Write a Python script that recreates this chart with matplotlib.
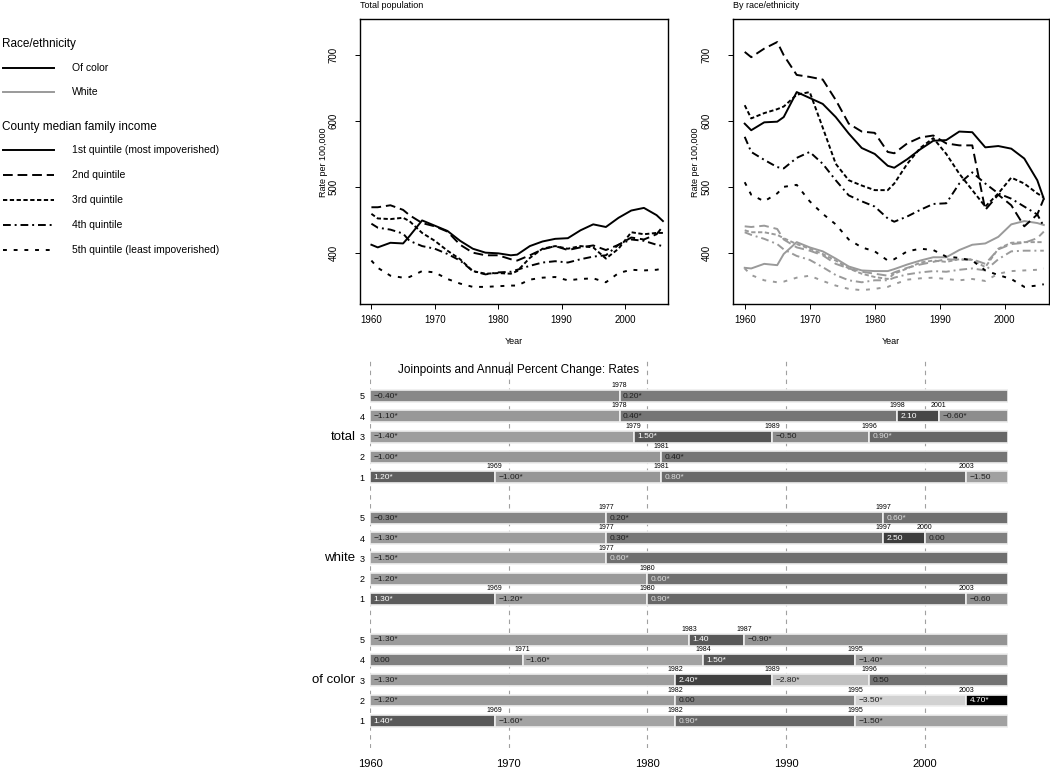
import matplotlib.pyplot as plt

plt.rcParams['font.family'] = ['Liberation Sans', 'DejaVu Sans']

# ---- data: rates per 100,000 ----
years = [1960, 1961, 1963, 1965, 1966, 1968, 1970, 1972, 1974, 1976, 1978, 1980, 1982,
         1983, 1985, 1987, 1989, 1991, 1993, 1995, 1997, 1999, 2001, 2003, 2005, 2006]

total_q1 = [412, 408, 415, 414, 425, 449, 441, 433, 418, 406, 400, 399, 396, 397, 410, 417, 421, 422, 434, 443, 439, 453, 464, 468, 457, 448]
total_q2 = [469, 469, 472, 465, 457, 445, 440, 432, 412, 400, 396, 396, 390, 388, 396, 405, 410, 404, 408, 411, 404, 412, 423, 420, 428, 440]
total_q3 = [459, 452, 451, 453, 448, 430, 418, 403, 390, 372, 368, 369, 368, 372, 392, 406, 410, 406, 410, 408, 391, 406, 431, 428, 430, 430]
total_q4 = [444, 438, 435, 429, 418, 410, 406, 398, 388, 372, 367, 370, 371, 374, 380, 385, 387, 385, 390, 394, 396, 412, 420, 418, 412, 410]
total_q5 = [388, 377, 365, 362, 363, 372, 370, 360, 353, 348, 348, 349, 350, 350, 359, 362, 363, 358, 360, 361, 355, 369, 374, 373, 374, 376]

color_q1 = [596, 586, 598, 599, 606, 644, 635, 626, 606, 581, 559, 550, 532, 529, 542, 557, 570, 571, 584, 583, 560, 562, 558, 543, 510, 482]
color_q2 = [705, 697, 710, 720, 700, 670, 667, 663, 632, 596, 584, 582, 553, 551, 566, 575, 578, 566, 563, 563, 465, 488, 472, 440, 458, 482]
color_q3 = [624, 604, 612, 618, 622, 640, 644, 590, 535, 510, 502, 495, 495, 505, 535, 559, 574, 550, 520, 495, 470, 490, 514, 505, 490, 484]
color_q4 = [576, 553, 541, 530, 528, 544, 553, 535, 510, 487, 478, 470, 452, 447, 455, 465, 474, 475, 505, 522, 505, 490, 482, 470, 458, 440]
color_q5 = [507, 488, 478, 490, 500, 503, 478, 459, 443, 420, 408, 402, 388, 390, 402, 406, 404, 394, 392, 388, 373, 366, 360, 348, 350, 352]

white_q1 = [377, 376, 383, 381, 398, 416, 408, 402, 391, 379, 373, 372, 372, 375, 382, 388, 393, 393, 404, 412, 414, 424, 443, 448, 445, 442]
white_q2 = [440, 439, 441, 436, 420, 408, 403, 396, 383, 376, 371, 368, 365, 370, 377, 382, 386, 390, 389, 390, 383, 405, 413, 415, 422, 432]
white_q3 = [434, 431, 431, 427, 422, 413, 406, 398, 388, 376, 368, 363, 360, 368, 376, 385, 388, 386, 390, 389, 378, 406, 415, 416, 416, 416]
white_q4 = [431, 427, 421, 413, 405, 395, 389, 378, 366, 358, 355, 358, 358, 362, 367, 370, 372, 371, 374, 376, 373, 390, 402, 403, 403, 403]
white_q5 = [376, 366, 358, 355, 356, 362, 365, 357, 350, 345, 343, 345, 348, 352, 359, 361, 362, 360, 358, 360, 357, 368, 372, 373, 374, 376]

quintile_labels = ['1st quintile (most impoverished)', '2nd quintile', '3rd quintile',
                   '4th quintile', '5th quintile (least impoverished)']
race_labels = ['Of color', 'White']

# ---- joinpoint data: rows are quintiles 5,4,3,2,1 ----
jp_groups = ['total', 'white', 'of color']
row_names = ['5', '4', '3', '2', '1']

total_joins = [[1978], [1978, 1998, 2001], [1979, 1989, 1996], [1981], [1969, 1981, 2003]]
total_apc = [['-0.40*', '0.20*'], ['-1.10*', '0.40*', '2.10', '-0.60*'],
             ['-1.40*', '1.50*', '-0.50', '0.90*'], ['-1.00*', '0.40*'],
             ['1.20*', '-1.00*', '0.80*', '-1.50']]

white_joins = [[1977, 1997], [1977, 1997, 2000], [1977], [1980], [1969, 1980, 2003]]
white_apc = [['-0.30*', '0.20*', '0.60*'], ['-1.30*', '0.30*', '2.50', '0.00'],
             ['-1.50*', '0.60*'], ['-1.20*', '0.60*'],
             ['1.30*', '-1.20*', '0.90*', '-0.60']]

color_joins = [[1983, 1987], [1971, 1984, 1995], [1982, 1989, 1996], [1982, 1995, 2003], [1969, 1982, 1995]]
color_apc = [['-1.30*', '1.40', '-0.90*'], ['0.00', '-1.60*', '1.50*', '-1.40*'],
             ['-1.30*', '2.40*', '-2.80*', '0.50'], ['-1.20*', '0.00', '-3.50*', '4.70*'],
             ['1.40*', '-1.60*', '0.90*', '-1.50*']]

start_year, end_year = 1960, 2006

# ---- styles ----
q_styles = ['-', (0, (5, 2.5)), (0, (2.2, 1.3)), (0, (4, 2, 1, 2)), (0, (2, 3.5))]
grey_line = '#9a9a9a'

fig = plt.figure(figsize=(10.5, 7.7), dpi=100)


def px_axes(l, t, r, b):
    return fig.add_axes([l / 1050, 1 - b / 770, (r - l) / 1050, (b - t) / 770])


def style_top(ax):
    ax.set_xlim(1958.2, 2006.8)
    ax.set_ylim(322, 755)
    ax.set_xticks([1960, 1970, 1980, 1990, 2000])
    ax.set_yticks([400, 500, 600, 700])
    ax.tick_params(labelsize=7, length=3.6, width=0.7)
    ax.tick_params(axis='x', pad=4)
    ax.tick_params(axis='y', rotation=90, pad=12)
    for lab in ax.get_yticklabels():
        lab.set_va('center')
    for s in ax.spines.values():
        s.set_linewidth(1.0)


# top left: total population
ax1 = px_axes(360, 19, 668, 304)
for vals, ls in zip([total_q1, total_q2, total_q3, total_q4, total_q5], q_styles):
    ax1.plot(years, vals, color='black', lw=1.4, ls=ls)
style_top(ax1)
fig.text(360 / 1050, 1 - 5 / 770, 'Total population', fontsize=6.5, va='center')
fig.text(324 / 1050, 1 - 162 / 770, 'Rate per 100,000', fontsize=6.5, rotation=90, ha='center', va='center')
fig.text(514 / 1050, 1 - 342 / 770, 'Year', fontsize=6.5, ha='center', va='center')

# top right: by race/ethnicity
ax2 = px_axes(733, 19, 1049, 304)
for vals, ls in zip([white_q1, white_q2, white_q3, white_q4, white_q5], q_styles):
    ax2.plot(years, vals, color=grey_line, lw=1.4, ls=ls)
for vals, ls in zip([color_q1, color_q2, color_q3, color_q4, color_q5], q_styles):
    ax2.plot(years, vals, color='black', lw=1.4, ls=ls)
style_top(ax2)
fig.text(733 / 1050, 1 - 5 / 770, 'By race/ethnicity', fontsize=6.5, va='center')
fig.text(696 / 1050, 1 - 162 / 770, 'Rate per 100,000', fontsize=6.5, rotation=90, ha='center', va='center')
fig.text(891 / 1050, 1 - 342 / 770, 'Year', fontsize=6.5, ha='center', va='center')

# legend panel
axl = px_axes(0, 0, 300, 300)
axl.set_xlim(0, 300)
axl.set_ylim(300, 0)
axl.axis('off')
axl.text(2, 44, 'Race/ethnicity', fontsize=8.5, va='center')
for i, (lab, c) in enumerate(zip(race_labels, ['black', grey_line])):
    y = 68 + i * 24
    axl.plot([3, 54], [y, y], color=c, lw=1.4)
    axl.text(72, y, lab, fontsize=7.5, va='center')
axl.text(2, 127, 'County median family income', fontsize=8.5, va='center')
for i, (lab, ls) in enumerate(zip(quintile_labels, q_styles)):
    y = 150 + i * 25
    axl.plot([3, 54], [y, y], color='black', lw=1.4, ls=ls)
    axl.text(72, y, lab, fontsize=7.5, va='center')

# ---- joinpoint panel ----
ax3 = px_axes(370, 358, 1008, 748)
ax3.set_xlim(start_year, end_year)
ax3.set_ylim(17.34, -1.87)
for s in ax3.spines.values():
    s.set_visible(False)

for yr in [1960, 1970, 1980, 1990, 2000]:
    ax3.axvline(yr, color='#a0a0a0', lw=0.8, ls=(0, (4, 4)), zorder=0)


def apc_grey(v):
    pts = [(-3.5, 0.82), (-1.5, 0.63), (0.0, 0.50), (1.5, 0.34), (2.5, 0.24), (4.7, 0.0)]
    for (x0, g0), (x1, g1) in zip(pts[:-1], pts[1:]):
        if v <= x1:
            return str(g0 + (g1 - g0) * (max(v, x0) - x0) / (x1 - x0))
    return '0.0'


bar_h = 0.59
ytick_pos, ytick_lab = [], []
group_data = [(total_joins, total_apc), (white_joins, white_apc), (color_joins, color_apc)]
for g, (name, (joins_all, apcs_all)) in enumerate(zip(jp_groups, group_data)):
    base = g * 6
    for r, (joins, apcs) in enumerate(zip(joins_all, apcs_all)):
        y = base + r
        ytick_pos.append(y)
        ytick_lab.append(row_names[r])
        edges = [start_year] + joins + [end_year]
        for x0, x1, lab in zip(edges[:-1], edges[1:], apcs):
            v = float(lab.rstrip('*'))
            ax3.barh(y, x1 - x0, left=x0, height=bar_h, color=apc_grey(v),
                     edgecolor='#eeeeee', linewidth=1.2, zorder=2)
            tc = 'white' if v >= 1.0 else ('#dedede' if v >= 0.55 else '#1e1e1e')
            ax3.text(x0 + 0.25, y + 0.02, lab.replace('-', '\u2212'), fontsize=6,
                     color=tc, va='center', ha='left', zorder=3)
        for j in joins:
            ax3.text(j, y - bar_h / 2 - 0.04, str(j), fontsize=5, ha='center',
                     va='bottom', zorder=3)
    ax3.text(1958.95, base + 2, name, fontsize=9.5, ha='right', va='center',
             clip_on=False)

ax3.set_yticks(ytick_pos)
ax3.set_yticklabels(ytick_lab)
ax3.tick_params(axis='y', length=0, pad=4, labelsize=6.5)
ax3.set_xticks([1960, 1970, 1980, 1990, 2000])
ax3.tick_params(axis='x', length=0, pad=8, labelsize=8)

fig.text(518 / 1050, 1 - 370 / 770, 'Joinpoints and Annual Percent Change: Rates',
         fontsize=8.5, ha='center', va='center')

fig.savefig('out.png', dpi=100)
